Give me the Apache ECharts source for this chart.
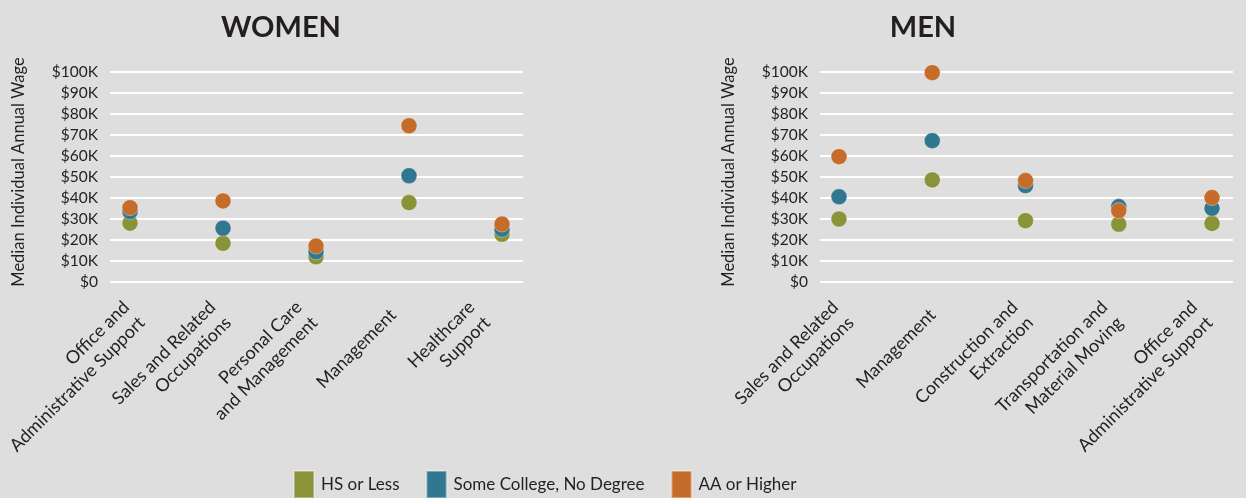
<!DOCTYPE html>
<html><head><meta charset="utf-8">
<script src="https://cdn.jsdelivr.net/npm/echarts@6/dist/echarts.min.js"></script>
<style>html,body{margin:0;padding:0;background:#dedede}#c{width:1246px;height:498px}</style>
</head><body><div id="c"></div>
<script>
const womenCategories = ['Office and\nAdministrative Support','Sales and Related\nOccupations','Personal Care\nand Management','Management','Healthcare\nSupport'];
const menCategories = ['Sales and Related\nOccupations','Management','Construction and\nExtraction','Transportation and\nMaterial Moving','Office and\nAdministrative Support'];
const seriesNames = ['HS or Less','Some College, No Degree','AA or Higher'];
const womenHS      = [28000, 18400, 12000, 37800, 22700];
const womenCollege = [33500, 25600, 14400, 50600, 25100];
const womenAA      = [35400, 38600, 17100, 74400, 27600];
const menHS      = [30000, 48600, 29200, 27500, 27900];
const menCollege = [40600, 67300, 45900, 35900, 35100];
const menAA      = [59700, 99700, 48300, 34000, 40200];
const yMin = 0, yMax = 100000, yStep = 10000;
const colors = ['#8b9338', '#327790', '#c56c2b'];
const yAxisName = 'Median Individual Annual Wage';

const FONT = 'Lato, "Noto Sans", sans-serif';
const TXT = '#231f20';
const W_PX = 1246, H_PX = 498;

const yFmt = v => v === 0 ? '$0' : '$' + (v / 1000) + 'K';

// grid gi: gridlines + y labels; gi+1: dots; gi+2: category labels
function gridAxes(gi, cats) {
  const hiddenY = (g) => ({ gridIndex: g, type: 'value', min: yMin, max: yMax, interval: yStep, show: false, splitLine: { show: false } });
  return {
    xAxes: [
      { gridIndex: gi, type: 'value', min: 0, max: 1, show: false },
      { gridIndex: gi + 1, type: 'category', data: cats, boundaryGap: false, show: false },
      { gridIndex: gi + 2, type: 'category', data: cats, boundaryGap: false,
        axisLine: { show: false }, axisTick: { show: false },
        axisLabel: { interval: 0, rotate: 45, margin: 30, fontFamily: FONT, fontSize: 18, lineHeight: 22, color: TXT } }
    ],
    yAxes: [
      { gridIndex: gi, type: 'value', min: yMin, max: yMax, interval: yStep,
        name: yAxisName, nameLocation: 'middle', nameGap: 83, nameRotate: 90,
        nameTextStyle: { fontFamily: FONT, fontSize: 16.5, color: TXT, padding: [0, 0, 0, 10] },
        axisLine: { show: false }, axisTick: { show: false },
        axisLabel: { formatter: yFmt, fontFamily: FONT, fontSize: 15.5, color: TXT, margin: 12 },
        splitLine: { show: true, lineStyle: { color: '#ffffff', width: 2 } } },
      hiddenY(gi + 1),
      hiddenY(gi + 2)
    ]
  };
}
const W = gridAxes(0, womenCategories);
const M = gridAxes(3, menCategories);

function sc(name, data, xi, ci) {
  return { name, type: 'scatter', xAxisIndex: xi, yAxisIndex: xi, data,
    symbolSize: 16, itemStyle: { color: colors[ci], opacity: 1, borderColor: 'rgba(255,255,255,0.35)', borderWidth: 1 }, z: 2 + ci };
}
const gridBase = { top: 72, bottom: H_PX - 282, containLabel: false, outerBoundsMode: 'none' };
const g = (l, r) => Object.assign({ left: l, right: W_PX - r }, gridBase);

const option = {
  backgroundColor: '#dedede',
  animation: false,
  title: [
    { text: 'WOMEN', left: 276, top: 8, textAlign: 'center', textStyle: { fontFamily: FONT, fontSize: 29, fontWeight: 'bold', color: TXT } },
    { text: 'MEN', left: 918, top: 8, textAlign: 'center', textStyle: { fontFamily: FONT, fontSize: 29, fontWeight: 'bold', color: TXT } }
  ],
  legend: {
    data: seriesNames, left: 293, top: 470, padding: 0, icon: 'rect', itemWidth: 20, itemHeight: 27, itemGap: 26,
    textStyle: { fontFamily: FONT, fontSize: 17, color: TXT, padding: [0, 0, 0, 2] }
  },
  grid: [
    g(110, 523), g(130, 502), g(134, 479.5),
    g(820, 1233), g(839, 1212), g(843, 1202)
  ],
  xAxis: [...W.xAxes, ...M.xAxes],
  yAxis: [...W.yAxes, ...M.yAxes],
  series: [
    sc(seriesNames[0], womenHS, 1, 0),
    sc(seriesNames[1], womenCollege, 1, 1),
    sc(seriesNames[2], womenAA, 1, 2),
    sc(seriesNames[0], menHS, 4, 0),
    sc(seriesNames[1], menCollege, 4, 1),
    sc(seriesNames[2], menAA, 4, 2)
  ]
};
const chart = echarts.init(document.getElementById('c'), null, { renderer: 'canvas' });
chart.setOption(option);
</script></body></html>
